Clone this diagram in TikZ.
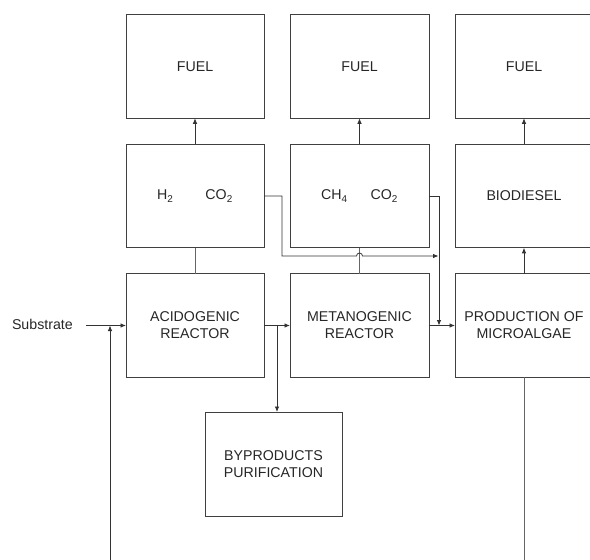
\documentclass[tikz,border=0pt]{standalone}
\usepackage{fontspec}
\setmainfont{Liberation Sans}
\usetikzlibrary{arrows.meta}
\begin{document}
\begin{tikzpicture}[x=1pt,y=-1pt,
  box/.style={draw=black!75, line width=0.9pt, inner sep=0pt, outer sep=0pt,
    minimum width=138pt, minimum height=103.5pt, align=center, text=black!85,
    font=\fontsize{14.2}{17}\selectfont},
  conn/.style={draw=black!60, line width=0.9pt},
  arr/.style={draw=black!80, line width=0.8pt, -{Latex[length=5.5pt,width=4.5pt]}},
  lbl/.style={text=black!85, font=\fontsize{14.2}{17}\selectfont, inner sep=0pt}]
\useasboundingbox (0,0) rectangle (590,560);
\clip (0,0) rectangle (590,560);
% row 1
\node[box] (f1) at (195,66.5) {FUEL};
\node[box, minimum width=139pt] (f2) at (359.5,66.5) {FUEL};
\node[box] (f3) at (524,66.5) {FUEL};
% row 2
\node[box] (g1) at (195,196) {H\textsubscript{2}\hspace{32pt}CO\textsubscript{2}};
\node[box, minimum width=139pt] (g2) at (359.5,196) {CH\textsubscript{4}\hspace{23pt}CO\textsubscript{2}};
\node[box] (g3) at (524,196) {BIODIESEL};
% row 3
\node[box] (r1) at (195,325.5) {ACIDOGENIC\\REACTOR};
\node[box, minimum width=139pt] (r2) at (359.5,325.5) {METANOGENIC\\REACTOR};
\node[box] (r3) at (524,325.5) {PRODUCTION OF\\MICROALGAE};
% byproducts
\node[box, minimum width=137pt, minimum height=104pt] (bp) at (273.5,464) {BYPRODUCTS\\PURIFICATION};
% substrate
\node[lbl, anchor=east] (sub) at (73,324) {Substrate};
\coordinate (s0) at (86,325.5);
\coordinate (rb) at (110,560);
\coordinate (rr) at (524,560);
\coordinate (br) at (277,325.5);
\coordinate (j1) at (282,196);
\coordinate (j2) at (282,256);
\coordinate (hop) at (356.5,256);
\coordinate (j3) at (438.5,256);
\coordinate (k1) at (439,196);
\coordinate (k2) at (439,325.5);
% vertical arrows to fuel
\draw[arr] (g1.north) -- (f1.south);
\draw[arr] (g2.north) -- (f2.south);
\draw[arr] (g3.north) -- (f3.south);
% connections row2-row3
\draw[conn] (g1.south) -- (r1.north);
\draw[conn] (g2.south) -- (r2.north);
\draw[arr] (r3.north) -- (g3.south);
% gas lines
\draw[arr] (g1.east) -- (j1) -- (j2) -- (hop) arc[start angle=180, end angle=0, radius=3pt] -- (j3);
\draw[arr] (g2.east) -- (k1) -- (k2);
% reactor chain
\draw[arr] (r1.east) -- (r2.west);
\draw[arr] (br) -- (br |- bp.north);
\draw[arr] (r2.east) -- (r3.west);
% substrate and recycle
\draw[arr] (s0) -- (r1.west);
\draw[arr] (rb) -- (rb |- s0);
\draw[conn] (r3.south) -- (rr);
\end{tikzpicture}
\end{document}
